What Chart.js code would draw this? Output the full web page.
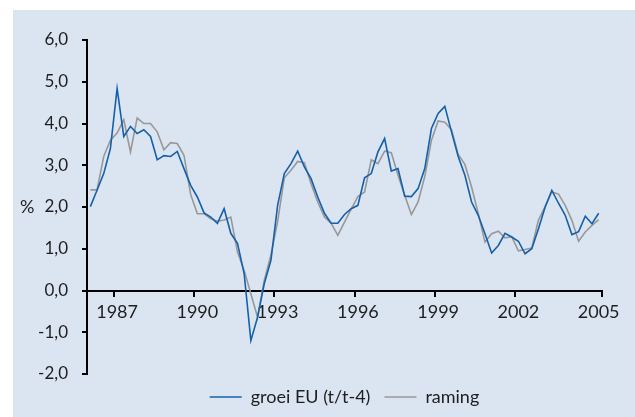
<!DOCTYPE html>
<html lang="nl">
<head>
<meta charset="UTF-8">
<title>Groei EU en raming</title>
<script src="https://cdn.jsdelivr.net/npm/chart.js"></script>
<style>
  body { margin: 0; background: #fff; }
  .paneel {
    position: absolute;
    left: 13px;
    top: 10px;
    width: 622px;
    height: 407px;
    background: #dbe5f1;
  }
</style>
</head>
<body>
<div class="paneel">
  <canvas id="grafiek"></canvas>
</div>

<script>
// kwartalen 1986K1 t/m 2005K1
const kwartalen = [
  '1986K1','1986K2','1986K3','1986K4', '1987K1','1987K2','1987K3','1987K4',
  '1988K1','1988K2','1988K3','1988K4', '1989K1','1989K2','1989K3','1989K4',
  '1990K1','1990K2','1990K3','1990K4', '1991K1','1991K2','1991K3','1991K4',
  '1992K1','1992K2','1992K3','1992K4', '1993K1','1993K2','1993K3','1993K4',
  '1994K1','1994K2','1994K3','1994K4', '1995K1','1995K2','1995K3','1995K4',
  '1996K1','1996K2','1996K3','1996K4', '1997K1','1997K2','1997K3','1997K4',
  '1998K1','1998K2','1998K3','1998K4', '1999K1','1999K2','1999K3','1999K4',
  '2000K1','2000K2','2000K3','2000K4', '2001K1','2001K2','2001K3','2001K4',
  '2002K1','2002K2','2002K3','2002K4', '2003K1','2003K2','2003K3','2003K4',
  '2004K1','2004K2','2004K3','2004K4', '2005K1'
];

const groeiEU = [
  2.01, 2.40, 2.80, 3.40, 4.84, 3.69, 3.93, 3.76, 3.85, 3.69, 3.13, 3.23,
  3.21, 3.33, 2.92, 2.52, 2.24, 1.86, 1.76, 1.61, 1.96, 1.37, 1.13, 0.40,
  -1.20, -0.64, 0.16, 0.72, 2.04, 2.80, 3.04, 3.34, 2.96, 2.68, 2.24, 1.85,
  1.61, 1.61, 1.82, 1.96, 2.04, 2.70, 2.80, 3.32, 3.64, 2.86, 2.92, 2.26,
  2.25, 2.44, 2.92, 3.88, 4.24, 4.41, 3.80, 3.21, 2.76, 2.12, 1.80, 1.36,
  0.90, 1.08, 1.37, 1.28, 1.18, 0.88, 1.00, 1.48, 2.00, 2.40, 2.09, 1.80,
  1.34, 1.41, 1.78, 1.60, 1.85
];

const raming = [
  2.41, 2.41, 3.21, 3.60, 3.77, 4.09, 3.32, 4.13, 4.00, 4.00, 3.80, 3.37,
  3.54, 3.52, 3.24, 2.30, 1.84, 1.84, 1.72, 1.66, 1.69, 1.76, 0.92, 0.48,
  -0.08, -0.64, 0.24, 0.85, 1.65, 2.70, 2.88, 3.09, 3.06, 2.56, 2.12, 1.76,
  1.61, 1.32, 1.64, 1.95, 2.25, 2.36, 3.13, 3.04, 3.34, 3.30, 2.76, 2.28,
  1.82, 2.12, 2.73, 3.60, 4.06, 4.03, 3.85, 3.26, 3.02, 2.48, 1.84, 1.16,
  1.36, 1.42, 1.26, 1.29, 0.95, 0.98, 1.02, 1.69, 2.01, 2.36, 2.31, 2.04,
  1.68, 1.18, 1.40, 1.56, 1.70
];

const jaarLabels = ['1987', '1990', '1993', '1996', '1999', '2002', '2005'];

const tekstKleur = '#1e1e1e';
const lettertype = 'Lato';

function isJaarTick(i) {
  const k = kwartalen[i];
  return k.endsWith('K1') && jaarLabels.includes(k.slice(0, 4));
}

// "%" links naast de y-as, niet gedraaid
const procentTeken = {
  id: 'procentTeken',
  afterDraw(chart) {
    const ctx = chart.ctx;
    const area = chart.chartArea;
    ctx.save();
    ctx.font = '18px ' + lettertype;
    ctx.fillStyle = tekstKleur;
    ctx.textAlign = 'left';
    ctx.textBaseline = 'middle';
    ctx.fillText('%', 7, (area.top + area.bottom) / 2);
    ctx.restore();
  }
};

new Chart(document.getElementById('grafiek'), {
  type: 'line',
  data: {
    labels: kwartalen,
    datasets: [
      {
        label: 'groei EU (t/t-4)',
        data: groeiEU,
        borderColor: '#1560a8',
        backgroundColor: '#1560a8',
        borderWidth: 1.6,
        pointRadius: 0,
        tension: 0
      },
      {
        label: 'raming',
        data: raming,
        borderColor: '#989898',
        backgroundColor: '#989898',
        borderWidth: 1.6,
        pointRadius: 0,
        tension: 0
      }
    ]
  },
  options: {
    responsive: true,
    maintainAspectRatio: false,
    animation: false,
    layout: { padding: { top: 30, right: 33, bottom: 1, left: 0 } },
    plugins: {
      tooltip: { enabled: false },
      legend: {
        position: 'bottom',
        fullSize: false,
        labels: {
          usePointStyle: true,
          pointStyle: 'line',
          pointStyleWidth: 32,
          padding: 14,
          color: tekstKleur,
          font: { family: lettertype, size: 18, lineHeight: 1 }
        }
      }
    },
    scales: {
      x: {
        type: 'category',
        position: { y: 0 },
        offset: true,
        border: { color: '#000', width: 2 },
        grid: {
          offset: true,
          drawOnChartArea: false,
          tickLength: 5,
          lineWidth: 2,
          color: (c) => {
            if (c.type !== 'tick') return '#000';
            return isJaarTick(c.index) && c.index < kwartalen.length - 1 ? '#000' : 'rgba(0,0,0,0)';
          }
        },
        ticks: {
          autoSkip: false,
          maxRotation: 0,
          minRotation: 0,
          padding: 6,
          color: tekstKleur,
          font: { family: lettertype, size: 18 },
          callback: (v, i) => isJaarTick(i) ? kwartalen[i].slice(0, 4) : ''
        }
      },
      y: {
        min: -2,
        max: 6,
        border: { color: '#000', width: 2 },
        grid: {
          drawOnChartArea: false,
          tickLength: 5,
          lineWidth: 2,
          color: '#000'
        },
        ticks: {
          stepSize: 1,
          padding: 14,
          color: tekstKleur,
          font: { family: lettertype, size: 17 },
          callback: (v) => v.toFixed(1).replace('.', ',')
        },
        afterFit: (s) => { s.width = 74; }
      }
    }
  },
  plugins: [procentTeken]
});
</script>
</body>
</html>
